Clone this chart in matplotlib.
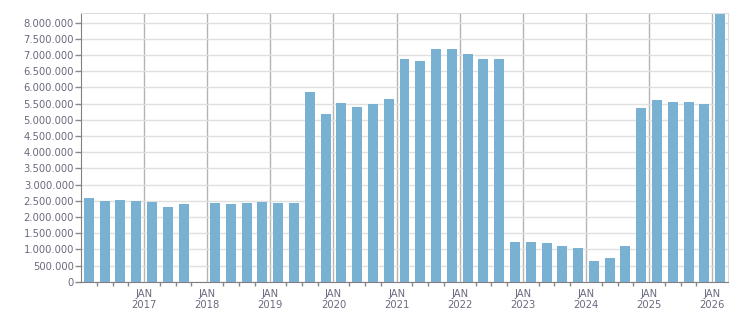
import numpy as np
import matplotlib
matplotlib.use("Agg")
import matplotlib.pyplot as plt
from matplotlib.ticker import FuncFormatter, MultipleLocator

# quarterly values, Q1 2016 .. Q1 2026 (None = no data)
years = [2016]*4 + [2017]*4 + [2018]*4 + [2019]*4 + [2020]*4 + [2021]*4 + \
        [2022]*4 + [2023]*4 + [2024]*4 + [2025]*4 + [2026]
quarters = [1, 2, 3, 4]*10 + [1]
values = [2585000, 2490000, 2520000, 2490000,
          2460000, 2310000, 2400000, None,
          2430000, 2400000, 2430000, 2460000,
          2430000, 2430000, 5860000, 5180000,
          5510000, 5400000, 5490000, 5640000,
          6880000, 6820000, 7190000, 7190000,
          7030000, 6880000, 6880000, 1230000,
          1230000, 1200000, 1100000, 1040000,
          640000, 730000, 1100000, 5360000,
          5610000, 5550000, 5550000, 5490000,
          8290000]
year_labels = list(range(2017, 2027))

text_col = "#6a6a80"
bar_col = "#79b1d3"

fig = plt.figure(figsize=(7.51, 3.13), dpi=100)
ax = fig.add_axes([81/751, 31.3/313, (728-81)/751, (281.7-13.3)/313])

xs = [y + (q - 0.5)/4 for y, q, v in zip(years, quarters, values) if v is not None]
hs = [v for v in values if v is not None]
ax.bar(xs, hs, width=0.158, color=bar_col, zorder=2)

ax.set_xlim(2016, 2026.25)
ax.set_ylim(0, 8290000)

ax.yaxis.set_major_locator(MultipleLocator(500000))
ax.yaxis.set_major_formatter(FuncFormatter(lambda v, p: f"{int(v):,}".replace(",", ".")))
ax.set_xticks(year_labels)
ax.set_xticklabels([f"JAN\n{y}" for y in year_labels])
ax.set_xticks(np.arange(2016.25, 2026.25, 0.25), minor=True)

ax.grid(axis="y", color="#e0e0e0", linewidth=1, zorder=0)
ax.grid(axis="x", which="major", color="#b4b4b4", linewidth=1, zorder=1)
ax.set_axisbelow(True)

ax.tick_params(axis="y", length=4, width=1, color="#888888", labelsize=7.2,
               labelcolor=text_col, pad=1)
ax.tick_params(axis="x", which="major", length=0, labelsize=7.2,
               labelcolor=text_col, pad=5)
ax.tick_params(axis="x", which="minor", length=3, width=1, color="#888888")

for s in ["left", "bottom"]:
    ax.spines[s].set_color("#808080")
for s in ["top", "right"]:
    ax.spines[s].set_color("#dcdcdc")

fig.savefig("out.png", dpi=100)
